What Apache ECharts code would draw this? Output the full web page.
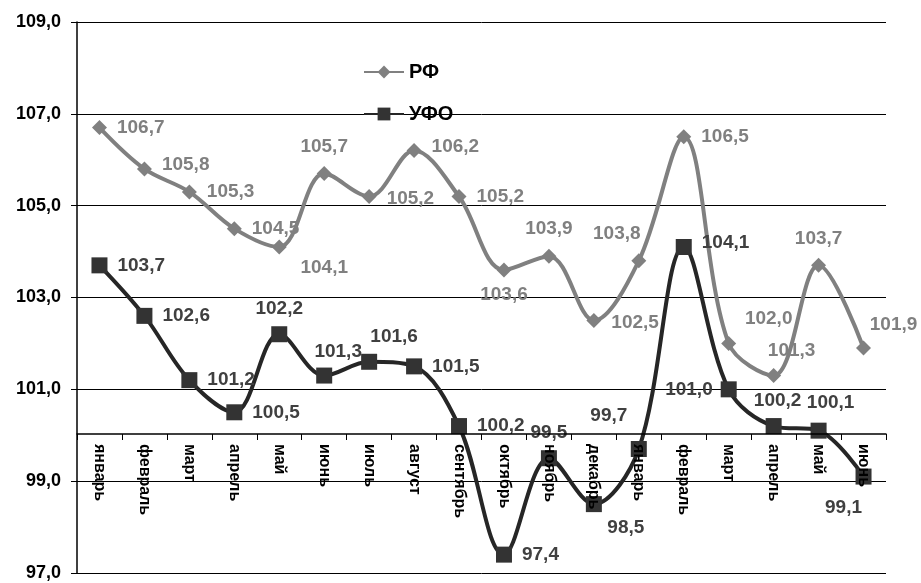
<!DOCTYPE html>
<html>
<head>
<meta charset="utf-8">
<script src="https://cdn.jsdelivr.net/npm/echarts@6/dist/echarts.min.js"></script>
<style>
  html, body { margin: 0; padding: 0; background: #fff; }
  #chart { width: 921px; height: 583px; }
</style>
</head>
<body>
<div id="chart"></div>
<script>
// months (two years, January to next June)
const months = ['январь', 'февраль', 'март', 'апрель', 'май', 'июнь', 'июль', 'август', 'сентябрь',
  'октябрь', 'ноябрь', 'декабрь', 'январь', 'февраль', 'март', 'апрель', 'май', 'июнь'];

const rfValues = [106.7, 105.8, 105.3, 104.5, 104.1, 105.7, 105.2, 106.2, 105.2,
  103.6, 103.9, 102.5, 103.8, 106.5, 102.0, 101.3, 103.7, 101.9];
const ufoValues = [103.7, 102.6, 101.2, 100.5, 102.2, 101.3, 101.6, 101.5, 100.2,
  97.4, 99.5, 98.5, 99.7, 104.1, 101.0, 100.2, 100.1, 99.1];

const yMin = 97, yMax = 109, yStep = 2;

// where each data label sits around its point
const rfLabelPos = ['right', 'right', 'right', 'right', 'bottom', 'top', 'right', 'right', 'right',
  'bottom', 'top', 'right', 'top', 'right', 'top', 'top', 'top', 'top'];
const ufoLabelPos = ['right', 'right', 'right', 'right', 'top', 'top', 'top', 'right', 'right',
  'right', 'top', 'bottom', 'top', 'right', 'left', 'top', 'top', 'bottom'];
const rfLabelShift = [[0, 0], [0, -4], [0, 0], [0, 0], [45, -6], [0, 0], [0, 2], [0, -4], [0, 0],
  [0, -2], [0, 0], [0, 2], [-22, 0], [0, 0], [40, 2], [18, 2], [0, 0], [30, 4]];
const ufoLabelShift = [[0, 0], [0, 0], [0, 0], [0, 0], [0, 2], [14, 4], [25, 2], [0, 0], [0, 0],
  [0, 0], [0, 2], [32, -4], [-30, -6], [0, -4], [2, 0], [4, 2], [12, 0], [-20, 4]];

const fmt = v => v.toFixed(1).replace('.', ',');

const chart = echarts.init(document.getElementById('chart'));

function buildData(values, pos, shift) {
  return values.map((v, i) => ({
    value: v,
    label: { position: pos[i], offset: shift[i] }
  }));
}

const option = {
  animation: false,
  textStyle: { fontFamily: 'Liberation Sans, Arial, sans-serif' },
  grid: [
    { left: 77, right: 35, top: 22, bottom: 10 },
    // second grid only carries the category axis, crossing at 100
    { left: 77, right: 35, top: 22, height: 412 }
  ],
  legend: {
    orient: 'vertical',
    left: 358,
    top: 57,
    itemWidth: 40,
    itemHeight: 16,
    itemGap: 22,
    textStyle: { fontSize: 20, fontWeight: 'bold', color: '#000' },
    data: ['РФ', 'УФО']
  },
  xAxis: [
    {
      type: 'category',
      gridIndex: 0,
      data: months,
      show: false
    },
    {
      type: 'category',
      gridIndex: 1,
      data: months,
      z: 10,
      axisLine: { lineStyle: { color: '#000', width: 1.5 } },
      axisTick: { show: true, length: 6, lineStyle: { color: '#000' } },
      axisLabel: {
        rotate: -90,
        interval: 0,
        margin: 10,
        fontSize: 16,
        fontWeight: 'bold',
        color: '#000'
      }
    }
  ],
  yAxis: [
    {
      type: 'value',
      gridIndex: 0,
      min: yMin,
      max: yMax,
      interval: yStep,
      axisLine: { show: true, lineStyle: { color: '#000', width: 1.5 } },
      axisTick: { show: true, length: 6, lineStyle: { color: '#000' } },
      splitLine: { lineStyle: { color: '#000', width: 1 } },
      axisLabel: {
        formatter: fmt,
        fontSize: 18,
        fontWeight: 'bold',
        color: '#000',
        margin: 16
      }
    },
    {
      type: 'value',
      gridIndex: 1,
      show: false
    }
  ],
  series: [
    {
      name: 'РФ',
      type: 'line',
      smooth: 0.35,
      symbol: 'diamond',
      symbolSize: 15,
      lineStyle: { color: '#808080', width: 4 },
      itemStyle: { color: '#808080' },
      label: {
        show: true,
        formatter: p => fmt(p.value),
        fontSize: 19,
        fontWeight: 'bold',
        color: '#808080',
        distance: 10
      },
      data: buildData(rfValues, rfLabelPos, rfLabelShift)
    },
    {
      name: 'УФО',
      type: 'line',
      smooth: 0.35,
      symbol: 'rect',
      symbolSize: 16,
      lineStyle: { color: '#262626', width: 4 },
      itemStyle: { color: '#333333' },
      label: {
        show: true,
        formatter: p => fmt(p.value),
        fontSize: 19,
        fontWeight: 'bold',
        color: '#404040',
        distance: 10
      },
      data: buildData(ufoValues, ufoLabelPos, ufoLabelShift)
    }
  ]
};

chart.setOption(option);
</script>
</body>
</html>
